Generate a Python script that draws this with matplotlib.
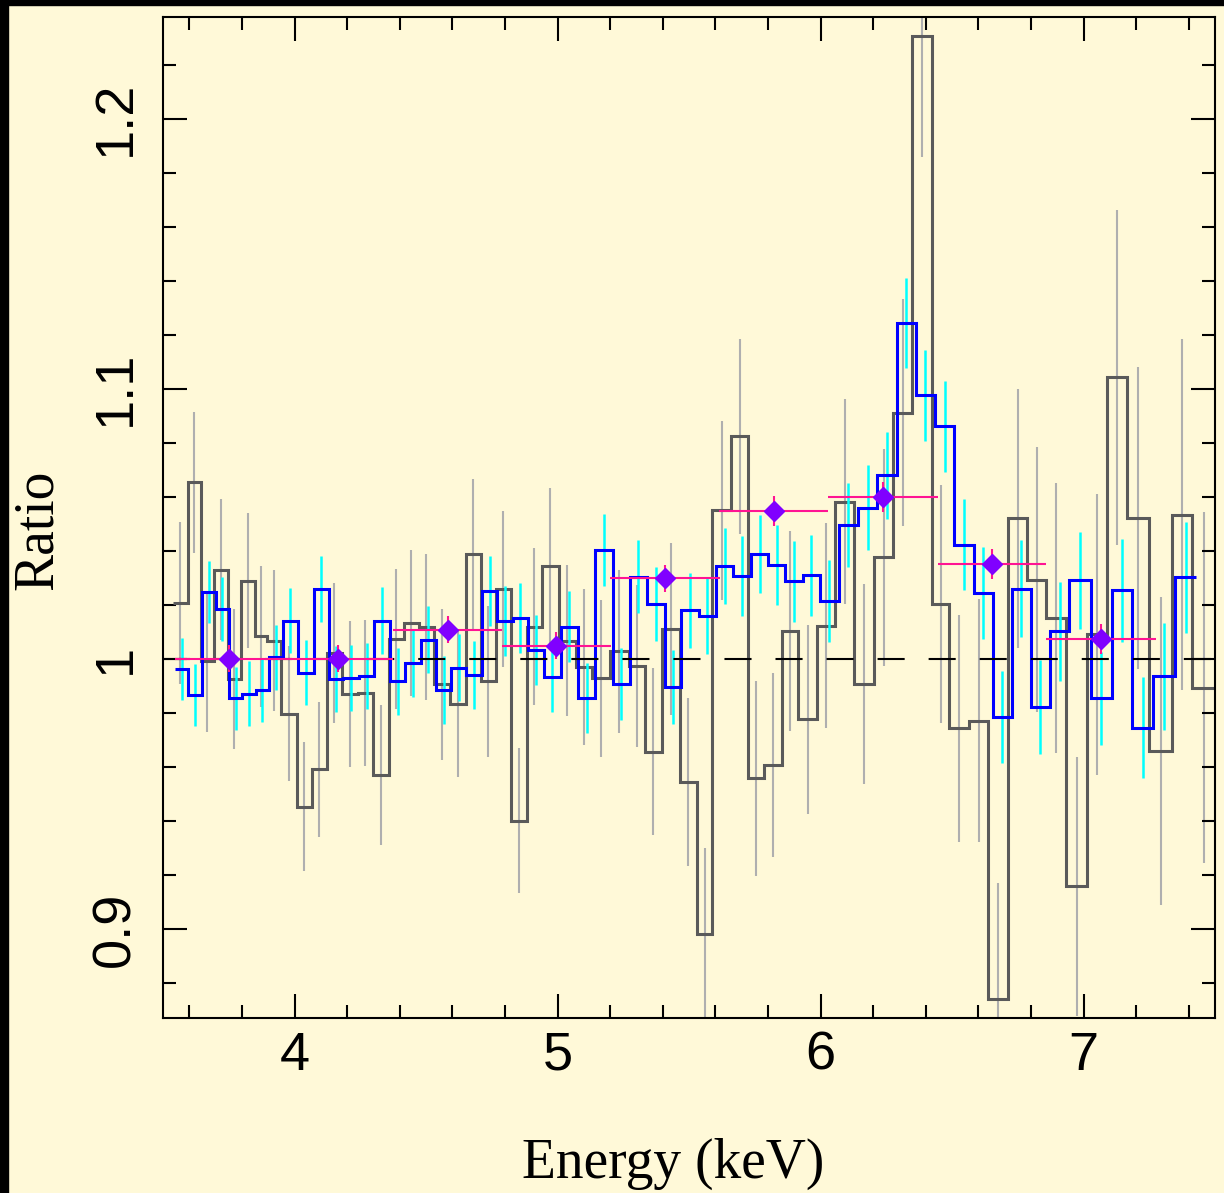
import matplotlib
matplotlib.use("Agg")
import matplotlib.pyplot as plt
import numpy as np
from matplotlib.patches import Rectangle
from matplotlib.ticker import MultipleLocator

# data / model ratio, fine binning (grey)
gray_edges = [3.538, 3.595, 3.644, 3.694, 3.747, 3.796, 3.849, 3.895, 3.948, 4.009,
              4.066, 4.123, 4.180, 4.241, 4.298, 4.359, 4.415, 4.472, 4.529, 4.590,
              4.651, 4.708, 4.765, 4.822, 4.883, 4.940, 5.004, 5.069, 5.133, 5.198,
              5.270, 5.331, 5.396, 5.464, 5.532, 5.589, 5.661, 5.726, 5.787, 5.855,
              5.916, 5.988, 6.056, 6.129, 6.205, 6.277, 6.349, 6.425, 6.490, 6.566,
              6.638, 6.714, 6.786, 6.858, 6.934, 7.014, 7.090, 7.166, 7.249, 7.337,
              7.413, 7.50]
gray_ratio = [1.0207, 1.0653, 0.9990, 1.0330, 0.9925, 1.0289, 1.0083, 1.0067, 0.9796, 0.9453,
              0.9591, 1.0021, 0.9869, 0.9873, 0.9570, 1.0074, 1.0132, 1.0119, 0.9905, 0.9832,
              1.0387, 0.9917, 1.0258, 0.9401, 1.0119, 1.0344, 1.0067, 0.9970, 0.9928, 1.0027,
              0.9974, 0.9656, 1.0110, 0.9544, 0.8980, 1.0549, 1.0823, 0.9557, 0.9607, 1.0102,
              0.9776, 1.0122, 1.0582, 0.9907, 1.0375, 1.0911, 1.2307, 1.0203, 0.9742, 0.9770,
              0.8739, 1.0520, 1.0293, 1.0150, 0.9158, 1.0090, 1.1042, 1.0522, 0.9657, 1.0533,
              0.9893]
gray_err = [0.030, 0.026, 0.026, 0.026, 0.026, 0.025, 0.026, 0.026, 0.025, 0.024,
            0.025, 0.026, 0.027, 0.027, 0.026, 0.026, 0.027, 0.027, 0.028, 0.027,
            0.028, 0.028, 0.029, 0.027, 0.029, 0.029, 0.028, 0.029, 0.029, 0.030,
            0.030, 0.031, 0.032, 0.031, 0.032, 0.033, 0.036, 0.036, 0.034, 0.037,
            0.035, 0.038, 0.038, 0.037, 0.040, 0.042, 0.045, 0.044, 0.042, 0.045,
            0.043, 0.048, 0.049, 0.050, 0.048, 0.052, 0.062, 0.056, 0.057, 0.065,
            0.065]

# data / model ratio, coarser binning (blue)
blue_edges = [3.5456, 3.5961, 3.6493, 3.7002, 3.7507, 3.8012, 3.8521, 3.9038, 3.9547, 4.0117,
              4.0736, 4.1306, 4.1849, 4.2457, 4.3027, 4.3623, 4.4219, 4.4801, 4.5389, 4.5967,
              4.6537, 4.7129, 4.7714, 4.8307, 4.8877, 4.9473, 5.0119, 5.0776, 5.1437, 5.2094,
              5.2751, 5.3397, 5.4070, 5.4704, 5.5372, 5.6033, 5.6686, 5.7348, 5.8020, 5.8663,
              5.9323, 5.9984, 6.0690, 6.1438, 6.2160, 6.2893, 6.3630, 6.4352, 6.5085, 6.5818,
              6.6540, 6.7277, 6.7999, 6.8721, 6.9454, 7.0278, 7.1076, 7.1859, 7.2656, 7.3469,
              7.4290]
blue_ratio = [0.9963, 0.9865, 1.0247, 1.0184, 0.9854, 0.9870, 0.9885, 1.0006, 1.0141, 0.9949,
              1.0258, 0.9925, 0.9928, 0.9935, 1.0141, 0.9916, 0.9984, 1.0070, 0.9885, 0.9967,
              0.9940, 1.0250, 1.0139, 1.0152, 1.0033, 0.9933, 1.0119, 0.9855, 1.0404, 0.9907,
              1.0304, 1.0203, 0.9894, 1.0179, 1.0158, 1.0344, 1.0307, 1.0388, 1.0348, 1.0287,
              1.0310, 1.0215, 1.0496, 1.0560, 1.0679, 1.1244, 1.0975, 1.0860, 1.0422, 1.0244,
              0.9783, 1.0259, 0.9823, 1.0101, 1.0290, 0.9853, 1.0253, 0.9745, 0.9935, 1.0301]
blue_err = [0.0115, 0.0115, 0.0115, 0.0118, 0.0116, 0.0120, 0.0118, 0.0120, 0.0121, 0.0120,
            0.0122, 0.0121, 0.0123, 0.0122, 0.0124, 0.0123, 0.0125, 0.0124, 0.0126, 0.0125,
            0.0127, 0.0129, 0.0129, 0.0130, 0.0130, 0.0131, 0.0132, 0.0131, 0.0133, 0.0134,
            0.0135, 0.0136, 0.0137, 0.0138, 0.0140, 0.0142, 0.0148, 0.0146, 0.0148, 0.0150,
            0.0150, 0.0152, 0.0155, 0.0158, 0.0160, 0.0166, 0.0168, 0.0170, 0.0168, 0.0169,
            0.0170, 0.0180, 0.0174, 0.0185, 0.0180, 0.0173, 0.0190, 0.0188, 0.0197, 0.0206]

# broad-band points (purple diamonds)
pt_energy = [3.752, 4.167, 4.582, 4.995, 5.408, 5.822, 6.237, 6.651, 7.066]
pt_halfwidth = [0.208, 0.207, 0.208, 0.207, 0.208, 0.208, 0.209, 0.206, 0.210]
pt_ratio = [1.0000, 1.0000, 1.0107, 1.0049, 1.0298, 1.0548, 1.0600, 1.0352, 1.0073]
pt_err = [0.005, 0.005, 0.005, 0.005, 0.005, 0.0055, 0.0055, 0.0055, 0.0055]

x_ticks = [4, 5, 6, 7]
x_ticklabels = ["4", "5", "6", "7"]
y_ticks = [0.9, 1.0, 1.1, 1.2]
y_ticklabels = ["0.9", "1", "1.1", "1.2"]

bg = "#FFF9D8"
W, H = 1224, 1193
fig = plt.figure(figsize=(W / 100, H / 100), dpi=100, facecolor=bg)
ax = fig.add_axes([163 / W, 1 - 1018 / H, (1215 - 163) / W, (1018 - 16.5) / H])
ax.set_facecolor(bg)

# black frame strips on top/left edge
fig.patches.append(Rectangle((0, 0), 8 / W, 1, transform=fig.transFigure, color="black"))
fig.patches.append(Rectangle((0, 1 - 5 / H), 1, 5 / H, transform=fig.transFigure, color="black"))

ge = np.array(gray_edges)
gc = 0.5 * (ge[1:] + ge[:-1])
ax.errorbar(gc, gray_ratio, yerr=gray_err, fmt="none", ecolor="#AFAFAF", elinewidth=1.5, zorder=1)
ax.stairs(gray_ratio, gray_edges, baseline=None, color="#5A5A5A", lw=2.2, zorder=2)

be = np.array(blue_edges)
bc = 0.5 * (be[1:] + be[:-1])
ax.errorbar(bc, blue_ratio, yerr=blue_err, fmt="none", ecolor="#00FFFF", elinewidth=1.8, zorder=3)
ax.stairs(blue_ratio, blue_edges, baseline=None, color="#0000FF", lw=2.2, zorder=4)

ax.plot([3.5, 7.5], [1, 1], color="black", lw=1.5, ls=(0, (13, 11.5)), zorder=5)

ax.errorbar(pt_energy, pt_ratio, xerr=pt_halfwidth, yerr=pt_err, fmt="D", color="#8000FF",
            ms=10, mew=1, ecolor="#FF1493", elinewidth=1.5, capsize=0, zorder=6)

ax.set_xlim(3.5, 7.5)
ax.set_ylim(0.867, 1.2378)
ax.set_xticks(x_ticks)
ax.xaxis.set_minor_locator(MultipleLocator(0.2))
ax.set_yticks(y_ticks)
ax.yaxis.set_minor_locator(MultipleLocator(0.02))

ax.tick_params(which="both", direction="in", top=True, right=True, width=1.5, color="black")
ax.tick_params(which="major", length=17)
ax.tick_params(which="minor", length=9.5)
ax.tick_params(axis="x", pad=9)
ax.tick_params(axis="y", pad=16)
for s in ax.spines.values():
    s.set_linewidth(1.5)

ax.set_xticklabels(x_ticklabels, family="Liberation Sans", fontsize=39)
ax.set_yticklabels(y_ticklabels, family="Liberation Sans", fontsize=39,
                   rotation=90, va="center")

fig.text(673.5 / W, 1 - 1164 / H, "Energy (keV)", family="Liberation Serif", fontsize=40,
         ha="center", va="center")
fig.text(38 / W, 1 - 530 / H, "Ratio", family="Liberation Serif", fontsize=40,
         rotation=90, ha="center", va="center")

fig.savefig("out.png", dpi=100, facecolor=bg)
